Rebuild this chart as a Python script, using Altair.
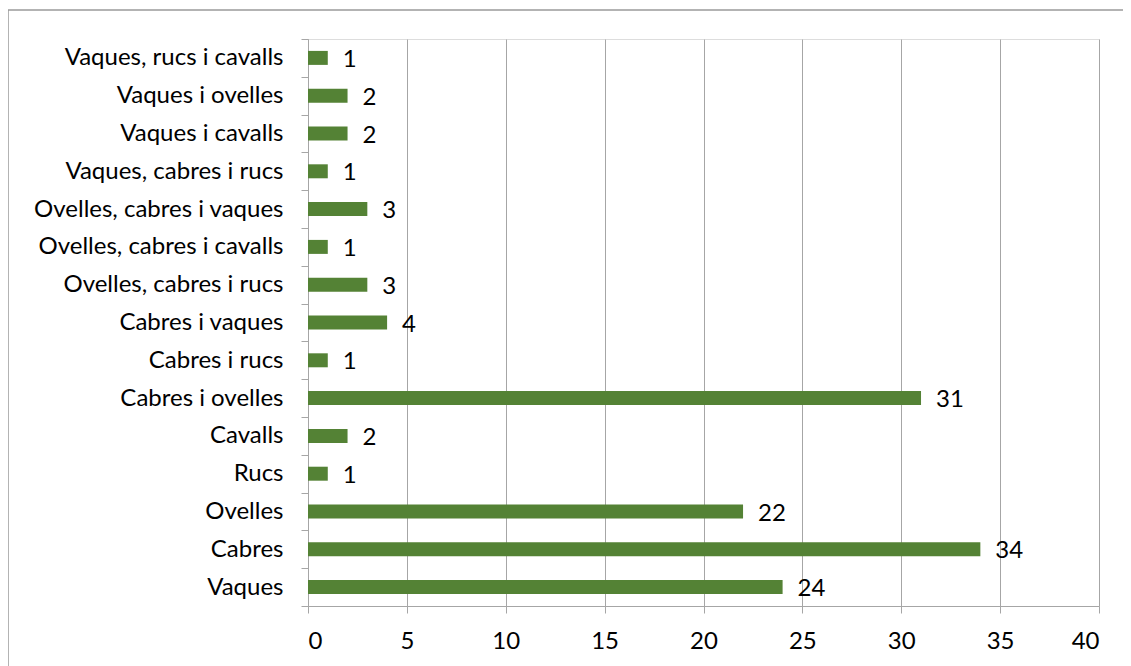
import altair as alt
import pandas as pd

categories = [
    "Vaques, rucs i cavalls",
    "Vaques i ovelles",
    "Vaques i cavalls",
    "Vaques, cabres i rucs",
    "Ovelles, cabres i vaques",
    "Ovelles, cabres i cavalls",
    "Ovelles, cabres i rucs",
    "Cabres i vaques",
    "Cabres i rucs",
    "Cabres i ovelles",
    "Cavalls",
    "Rucs",
    "Ovelles",
    "Cabres",
    "Vaques",
]
values = [1, 2, 2, 1, 3, 1, 3, 4, 1, 31, 2, 1, 22, 34, 24]
x_ticks = [0, 5, 10, 15, 20, 25, 30, 35, 40]

df = pd.DataFrame({"cat": categories, "val": values})

FONT = "Lato"
FS = 24
GRAY = "#a6a6a6"

y_enc = alt.Y(
    "cat:N",
    sort=categories,
    title=None,
    scale=alt.Scale(paddingInner=0, paddingOuter=0),
    axis=alt.Axis(
        tickBand="extent",
        tickSize=7,
        tickColor=GRAY,
        domainColor=GRAY,
        labelPadding=18,
        labelFontSize=FS,
        labelFont=FONT,
        labelColor="#000000",
        grid=False,
        labelLimit=400,
    ),
)
x_enc = alt.X(
    "val:Q",
    title=None,
    scale=alt.Scale(domain=[0, 40], nice=False),
    axis=alt.Axis(
        values=x_ticks,
        tickSize=7,
        tickColor=GRAY,
        domainColor=GRAY,
        gridColor=GRAY,
        gridWidth=1,
        labelPadding=16,
        labelFontSize=FS,
        labelFont=FONT,
        labelColor="#000000",
    ),
)

frame_src = pd.DataFrame({"f": [0]})
frame_top = alt.Chart(frame_src).mark_rule(color="#9a9a9a", strokeWidth=1.5).encode(
    x=alt.value(-300), x2=alt.value(1000), y=alt.value(-29)
)
frame_left = alt.Chart(frame_src).mark_rule(color="#9a9a9a", strokeWidth=1.5).encode(
    x=alt.value(-300), y=alt.value(-29), y2=alt.value(800)
)

bars = alt.Chart(df).mark_bar(
    color="#548235", height=alt.RelativeBandSize(0.37)
).encode(x=x_enc, y=y_enc)

labels = alt.Chart(df).mark_text(
    align="left", baseline="middle", dx=15, dy=2, fontSize=FS, font=FONT, color="#000000"
).encode(x="val:Q", y=alt.Y("cat:N", sort=categories), text="val:Q")

chart = alt.layer(frame_top, frame_left, bars, labels).properties(
    width=791,
    height=567,
    autosize=alt.AutoSizeParams(type="none"),
    padding={"left": 300, "top": 31, "right": 24, "bottom": 60},
).configure_view(stroke=None).configure(background="white")

chart.save("out.html", embed_options={"renderer": "svg", "actions": False})
